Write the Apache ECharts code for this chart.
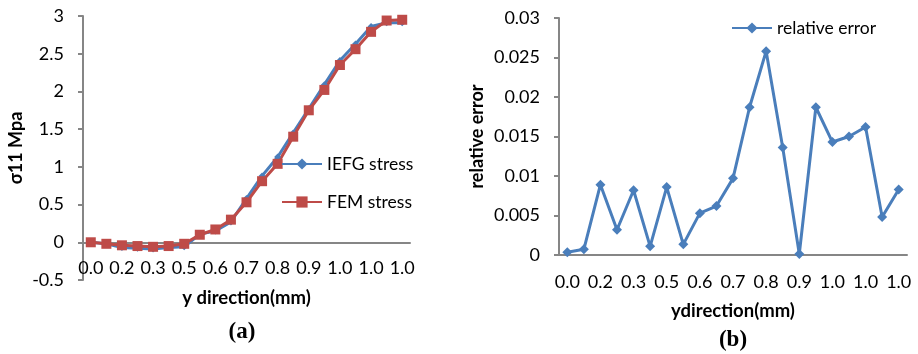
<!DOCTYPE html>
<html><head><meta charset="utf-8">
<script src="https://cdn.jsdelivr.net/npm/echarts@6/dist/echarts.min.js"></script>
<style>html,body{margin:0;padding:0;background:#fff}#c{width:918px;height:354px}</style>
</head><body><div id="c"></div>
<script>
const categories = ['0.0','0.1','0.2','0.2','0.3','0.3','0.5','0.5','0.6','0.6','0.7','0.7','0.8','0.8','0.9','0.9','1.0','1.0','1.0','1.0','1.0'];
const iefgStress = [0,-0.02,-0.07,-0.08,-0.09,-0.07,-0.06,0.11,0.15,0.27,0.58,0.88,1.13,1.45,1.77,2.09,2.41,2.63,2.86,2.91,2.91];
const femStress = [0,-0.02,-0.04,-0.05,-0.06,-0.05,-0.02,0.10,0.17,0.30,0.53,0.81,1.04,1.40,1.75,2.02,2.35,2.56,2.79,2.94,2.95];
const relError = [0.00034,0.00072,0.0089,0.0032,0.0082,0.0011,0.0086,0.00135,0.0053,0.0062,0.0097,0.0187,0.0258,0.0136,0.00013,0.0187,0.0143,0.0150,0.0162,0.0048,0.0083];

const FONT = 'Lato';
const axisGray = '#868686';
const blue = '#4a7ebb';
const red = '#be4b48';
const chart = echarts.init(document.getElementById('c'));
const xAxisCommon = {
  type: 'category', data: categories, boundaryGap: true,
  axisLine: {onZero: true, lineStyle: {color: axisGray, width: 2}},
  axisTick: {show: false},
  axisLabel: {interval: 1, color: '#000', fontFamily: FONT, fontSize: 18, margin: 18},
  nameLocation: 'middle',
  nameTextStyle: {fontFamily: FONT, fontSize: 18.5, fontWeight: 'bold', color: '#000'}
};
const yAxisCommon = {
  type: 'value',
  axisLine: {show: true, lineStyle: {color: axisGray, width: 2}},
  axisTick: {show: true, length: 5, lineStyle: {color: axisGray, width: 2}},
  splitLine: {show: false},
  axisLabel: {color: '#000', fontFamily: FONT, fontSize: 18, margin: 19},
  nameLocation: 'middle', nameRotate: 90,
  nameTextStyle: {fontFamily: FONT, fontSize: 18, fontWeight: 'bold', color: '#000'}
};
chart.setOption({
  animation: false,
  grid: [
    {left: 83, right: 508, top: 16, bottom: 74},
    {left: 559, right: 11, top: 18, bottom: 99}
  ],
  xAxis: [
    Object.assign({}, xAxisCommon, {gridIndex: 0, name: 'y direction(mm)', nameGap: 9,
      axisLabel: Object.assign({}, xAxisCommon.axisLabel, {margin: -21})}),
    Object.assign({}, xAxisCommon, {gridIndex: 1, name: 'ydirection(mm)', nameGap: 47})
  ],
  yAxis: [
    Object.assign({}, yAxisCommon, {gridIndex: 0, min: -0.5, max: 3, interval: 0.5, name: 'σ11 Mpa', nameGap: 58}),
    Object.assign({}, yAxisCommon, {gridIndex: 1, min: 0, max: 0.03, interval: 0.005, name: 'relative error', nameGap: 73})
  ],
  legend: [
    {orient: 'vertical', left: 281, top: 155, padding: 0, itemWidth: 40, itemHeight: 14, itemGap: 20,
     textStyle: {fontFamily: FONT, fontSize: 17.5, color: '#000'}, data: ['IEFG stress', 'FEM stress']},
    {left: 731, top: 19, padding: 0, itemWidth: 40, itemHeight: 14,
     textStyle: {fontFamily: FONT, fontSize: 17.5, color: '#000'}, data: ['relative error']}
  ],
  series: [
    {name: 'IEFG stress', type: 'line', xAxisIndex: 0, yAxisIndex: 0, data: iefgStress,
     symbol: 'diamond', symbolSize: 7, lineStyle: {color: blue, width: 3}, itemStyle: {color: blue}},
    {name: 'FEM stress', type: 'line', xAxisIndex: 0, yAxisIndex: 0, data: femStress,
     symbol: 'rect', symbolSize: 10, lineStyle: {color: red, width: 3}, itemStyle: {color: red}},
    {name: 'relative error', type: 'line', xAxisIndex: 1, yAxisIndex: 1, data: relError,
     symbol: 'diamond', symbolSize: 10, lineStyle: {color: blue, width: 3}, itemStyle: {color: blue}}
  ],
  graphic: [
    {type: 'text', x: 242, y: 332, style: {text: '(a)', font: 'bold 23px "Liberation Serif"', fill: '#000', align: 'center', verticalAlign: 'middle'}},
    {type: 'text', x: 733, y: 340, style: {text: '(b)', font: 'bold 23px "Liberation Serif"', fill: '#000', align: 'center', verticalAlign: 'middle'}}
  ]
});
</script></body></html>
